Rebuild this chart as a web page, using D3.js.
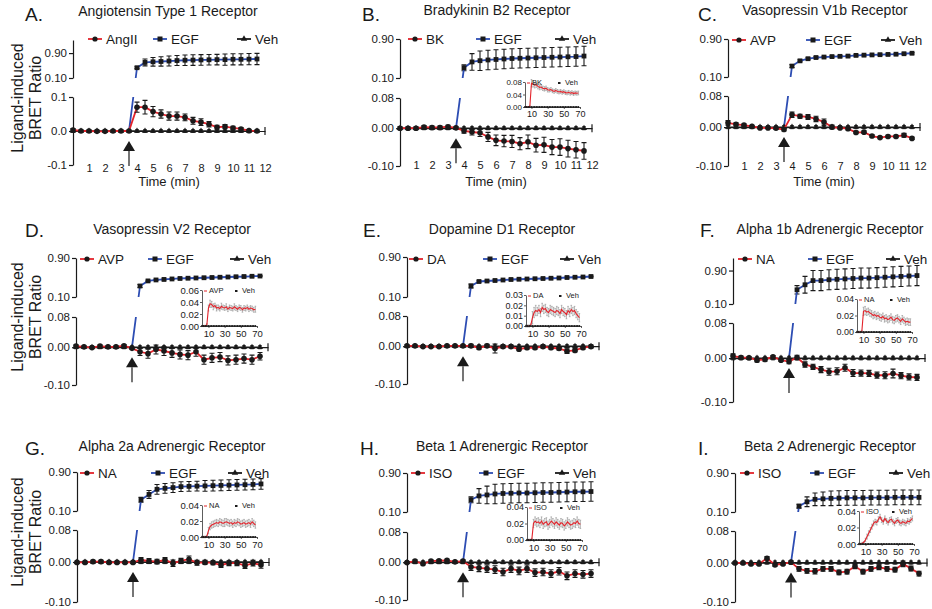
<!DOCTYPE html>
<html>
<head>
<meta charset="utf-8">
<script src="https://cdn.jsdelivr.net/npm/d3@7/dist/d3.min.js"></script>
<style>
  body { margin: 0; background: #fff; }
  svg text { font-family: "Liberation Sans", Arial, Helvetica, sans-serif; fill: #1a1a1a; }
  .ax path, .ax line { stroke: #1a1a1a; stroke-width: 1.2; }
  .ax text { font-size: 11.5px; }
  .xt text { font-size: 11px; }
  .iax path, .iax line { stroke: #333; stroke-width: 0.8; }
</style>
</head>
<body>
<svg id="fig" width="932" height="609"></svg>
<script>
// time points (min), EGF time points, tick labels
const time = [0, 0.5, 1, 1.5, 2, 2.5, 3, 3.5, 4, 4.5, 5, 5.5, 6, 6.5, 7, 7.5, 8, 8.5, 9, 9.5, 10, 10.5, 11, 11.5];
const egfTime = [3.5, 4, 4.5, 5, 5.5, 6, 6.5, 7, 7.5, 8, 8.5, 9, 9.5, 10, 10.5, 11, 11.5];
const xTicks = [1, 2, 3, 4, 5, 6, 7, 8, 9, 10, 11, 12];
const insetTime = [2, 4, 6, 8, 10, 12, 14, 16, 18, 20, 22, 24, 26, 28, 30, 32, 34, 36, 38, 40, 42, 44, 46, 48, 50, 52, 54, 56, 58, 60, 62, 64, 66, 68];
const insetTicks = [10, 30, 50, 70];

const veh = [0, 0, 0, 0, 0, 0, 0, 0, 0, 0, 0, 0, 0, 0, 0, 0, 0, 0, 0, 0, 0, 0, 0, 0];
const vehErr = [0.004, 0.004, 0.004, 0.004, 0.004, 0.004, 0.004, 0.004, 0.004, 0.004, 0.004, 0.004, 0.004, 0.004, 0.004, 0.004, 0.004, 0.004, 0.004, 0.004, 0.004, 0.004, 0.004, 0.004];

// A. AT1R
const angII = [0.003, 0, 0, -0.001, -0.001, 0, 0, 0, 0.07, 0.07, 0.057, 0.05, 0.044, 0.044, 0.04, 0.03, 0.026, 0.02, 0.011, 0.013, 0.009, 0.006, 0.001, 0];
const angIIErr = [0.004, 0.003, 0.003, 0.003, 0.003, 0.003, 0.003, 0.002, 0.015, 0.02, 0.015, 0.012, 0.012, 0.012, 0.01, 0.01, 0.01, 0.008, 0.006, 0.006, 0.005, 0.004, 0.003, 0.002];
const egfA = [0, 0.43, 0.6, 0.62, 0.63, 0.645, 0.66, 0.67, 0.675, 0.68, 0.685, 0.69, 0.69, 0.7, 0.7, 0.705, 0.71];
const egfAErr = [0, 0.03, 0.11, 0.14, 0.15, 0.16, 0.16, 0.17, 0.17, 0.17, 0.17, 0.17, 0.18, 0.18, 0.18, 0.18, 0.18];

// B. B2R
const bk = [0, 0, 0, 0.003, 0.002, 0.002, 0.004, 0.001, -0.007, -0.01, -0.012, -0.023, -0.032, -0.034, -0.035, -0.041, -0.036, -0.045, -0.044, -0.05, -0.05, -0.054, -0.057, -0.06];
const bkErr = [0.004, 0.004, 0.004, 0.004, 0.004, 0.004, 0.004, 0.003, 0.006, 0.008, 0.01, 0.012, 0.014, 0.015, 0.016, 0.016, 0.018, 0.018, 0.02, 0.02, 0.022, 0.022, 0.022, 0.022];
const egfB = [0, 0.31, 0.43, 0.455, 0.47, 0.48, 0.49, 0.5, 0.505, 0.51, 0.515, 0.52, 0.525, 0.53, 0.535, 0.54, 0.55];
const egfBErr = [0, 0.06, 0.17, 0.2, 0.2, 0.2, 0.2, 0.2, 0.2, 0.2, 0.2, 0.2, 0.2, 0.2, 0.2, 0.2, 0.2];
const bkIns = [0, 0, 0, 0.002, 0.076, 0.074, 0.07, 0.071, 0.066, 0.063, 0.064, 0.06, 0.058, 0.06, 0.055, 0.054, 0.056, 0.052, 0.05, 0.053, 0.05, 0.048, 0.05, 0.047, 0.049, 0.046, 0.045, 0.047, 0.044, 0.046, 0.043, 0.045, 0.044, 0.045];
const bkInsErr = [0.001, 0.001, 0.001, 0.002, 0.012, 0.01, 0.009, 0.008, 0.008, 0.008, 0.007, 0.007, 0.007, 0.007, 0.007, 0.006, 0.006, 0.006, 0.006, 0.006, 0.006, 0.006, 0.006, 0.006, 0.006, 0.006, 0.006, 0.006, 0.006, 0.006, 0.006, 0.006, 0.006, 0.006];

// C. V1bR
const avpC = [0.011, 0.007, 0.005, 0.002, -0.002, -0.002, -0.003, -0.006, 0.032, 0.028, 0.026, 0.021, 0.013, 0, -0.002, -0.004, -0.014, -0.013, -0.023, -0.027, -0.024, -0.024, -0.021, -0.029];
const avpCErr = [0.006, 0.004, 0.003, 0.002, 0.002, 0.002, 0.003, 0.004, 0.007, 0.005, 0.006, 0.007, 0.008, 0.005, 0.003, 0.003, 0.003, 0.003, 0.003, 0.003, 0.003, 0.003, 0.005, 0.003];
const egfC = [0, 0.33, 0.44, 0.485, 0.51, 0.52, 0.53, 0.535, 0.54, 0.555, 0.56, 0.565, 0.57, 0.575, 0.58, 0.59, 0.6];
const egfCErr = [0, 0.03, 0.02, 0.02, 0.02, 0.015, 0.015, 0.015, 0.015, 0.015, 0.015, 0.015, 0.015, 0.015, 0.015, 0.015, 0.015];

// D. V2R
const avpD = [0.003, 0.001, -0.001, 0.003, 0.001, 0.001, 0.004, -0.003, -0.012, -0.017, -0.006, -0.01, -0.015, -0.019, -0.021, -0.012, -0.033, -0.028, -0.026, -0.035, -0.033, -0.03, -0.033, -0.024];
const avpDErr = [0.003, 0.003, 0.003, 0.003, 0.003, 0.003, 0.003, 0.003, 0.01, 0.012, 0.012, 0.012, 0.012, 0.012, 0.012, 0.012, 0.012, 0.012, 0.012, 0.012, 0.012, 0.012, 0.012, 0.01];
const egfD = [0, 0.326, 0.43, 0.45, 0.46, 0.47, 0.48, 0.485, 0.49, 0.495, 0.5, 0.505, 0.51, 0.515, 0.52, 0.525, 0.53];
const egfDErr = [0, 0.03, 0.015, 0.012, 0.01, 0.01, 0.01, 0.01, 0.01, 0.01, 0.01, 0.01, 0.01, 0.01, 0.01, 0.01, 0.01];
const avpDIns = [0, 0, 0, 0.002, 0.03, 0.037, 0.036, 0.032, 0.034, 0.03, 0.031, 0.029, 0.033, 0.031, 0.03, 0.032, 0.028, 0.031, 0.03, 0.029, 0.032, 0.03, 0.028, 0.031, 0.03, 0.027, 0.03, 0.029, 0.031, 0.028, 0.03, 0.029, 0.027, 0.028];
const avpDInsErr = [0.001, 0.001, 0.001, 0.002, 0.005, 0.006, 0.005, 0.005, 0.004, 0.005, 0.004, 0.004, 0.005, 0.004, 0.004, 0.005, 0.004, 0.004, 0.004, 0.004, 0.005, 0.004, 0.004, 0.004, 0.004, 0.004, 0.004, 0.004, 0.004, 0.004, 0.004, 0.004, 0.004, 0.005];

// E. D1R
const da = [0.001, 0.001, -0.001, -0.001, -0.001, 0.001, 0.001, 0.001, 0.001, -0.004, 0.001, -0.006, -0.001, -0.001, -0.008, -0.004, -0.004, -0.001, -0.004, -0.006, -0.013, -0.011, -0.004, -0.001];
const daErr = [0.003, 0.003, 0.003, 0.003, 0.003, 0.003, 0.003, 0.003, 0.004, 0.004, 0.004, 0.012, 0.004, 0.004, 0.004, 0.004, 0.004, 0.004, 0.004, 0.004, 0.006, 0.004, 0.004, 0.004];
const egfE = [0, 0.32, 0.41, 0.42, 0.43, 0.44, 0.45, 0.455, 0.46, 0.465, 0.47, 0.475, 0.48, 0.49, 0.495, 0.5, 0.51];
const egfEErr = [0, 0.04, 0.015, 0.012, 0.01, 0.01, 0.01, 0.01, 0.01, 0.01, 0.01, 0.01, 0.01, 0.01, 0.01, 0.01, 0.01];
const daIns = [0, 0, 0, 0.001, 0.008, 0.013, 0.015, 0.014, 0.016, 0.013, 0.018, 0.016, 0.017, 0.014, 0.013, 0.016, 0.015, 0.014, 0.013, 0.015, 0.014, 0.012, 0.016, 0.014, 0.013, 0.011, 0.015, 0.013, 0.016, 0.014, 0.015, 0.012, 0.01, 0.008];
const daInsErr = [0.001, 0.001, 0.001, 0.001, 0.006, 0.005, 0.005, 0.004, 0.004, 0.004, 0.004, 0.004, 0.004, 0.004, 0.004, 0.004, 0.004, 0.004, 0.004, 0.004, 0.004, 0.004, 0.004, 0.004, 0.004, 0.004, 0.004, 0.004, 0.004, 0.004, 0.004, 0.004, 0.004, 0.004];

// F. Alpha1bAR
const naF = [0.0046, 0.0015, 0.0008, -0.0046, -0.003, 0.003, -0.0046, -0.008, 0.0015, -0.0145, -0.02, -0.026, -0.031, -0.03, -0.022, -0.034, -0.034, -0.035, -0.039, -0.039, -0.035, -0.04, -0.043, -0.044];
const naFErr = [0.005, 0.003, 0.003, 0.004, 0.004, 0.003, 0.003, 0.005, 0.005, 0.006, 0.006, 0.007, 0.008, 0.008, 0.008, 0.008, 0.007, 0.007, 0.007, 0.008, 0.01, 0.007, 0.007, 0.007];
const egfF = [0, 0.44, 0.56, 0.66, 0.66, 0.68, 0.69, 0.7, 0.71, 0.72, 0.72, 0.73, 0.74, 0.75, 0.76, 0.77, 0.78];
const egfFErr = [0, 0.1, 0.2, 0.24, 0.24, 0.24, 0.24, 0.24, 0.24, 0.24, 0.24, 0.24, 0.24, 0.24, 0.24, 0.24, 0.24];
const naFIns = [0, 0, 0, 0.001, 0.025, 0.026, 0.024, 0.025, 0.023, 0.022, 0.02, 0.021, 0.019, 0.02, 0.018, 0.017, 0.019, 0.016, 0.017, 0.015, 0.016, 0.018, 0.015, 0.014, 0.016, 0.017, 0.015, 0.013, 0.016, 0.014, 0.012, 0.013, 0.012, 0.012];
const naFInsErr = [0.001, 0.001, 0.001, 0.001, 0.005, 0.005, 0.004, 0.004, 0.004, 0.004, 0.004, 0.004, 0.004, 0.004, 0.004, 0.004, 0.004, 0.004, 0.004, 0.004, 0.004, 0.004, 0.004, 0.004, 0.004, 0.004, 0.004, 0.004, 0.004, 0.004, 0.004, 0.004, 0.004, 0.004];

// G. Alpha2aAR
const naG = [-0.001, -0.001, 0.001, 0.001, -0.001, -0.001, -0.001, -0.001, 0.005, 0.0025, 0.001, 0.005, -0.003, 0.003, 0.007, -0.002, -0.001, -0.002, -0.0075, -0.003, -0.003, -0.009, -0.003, -0.0075];
const naGErr = [0.003, 0.003, 0.003, 0.003, 0.003, 0.003, 0.003, 0.003, 0.006, 0.006, 0.006, 0.006, 0.008, 0.006, 0.008, 0.006, 0.005, 0.005, 0.006, 0.006, 0.006, 0.007, 0.007, 0.008];
const egfG = [0, 0.33, 0.44, 0.545, 0.565, 0.58, 0.6, 0.605, 0.61, 0.615, 0.62, 0.625, 0.63, 0.635, 0.64, 0.645, 0.655];
const egfGErr = [0, 0.05, 0.08, 0.1, 0.1, 0.1, 0.1, 0.1, 0.1, 0.11, 0.11, 0.11, 0.11, 0.11, 0.11, 0.11, 0.11];
const naGIns = [0, 0, 0, 0.001, 0.008, 0.013, 0.015, 0.016, 0.017, 0.018, 0.017, 0.019, 0.018, 0.017, 0.018, 0.019, 0.018, 0.017, 0.018, 0.016, 0.018, 0.017, 0.019, 0.018, 0.016, 0.017, 0.018, 0.016, 0.017, 0.018, 0.016, 0.019, 0.017, 0.015];
const naGInsErr = [0.001, 0.001, 0.001, 0.001, 0.004, 0.004, 0.004, 0.004, 0.004, 0.004, 0.004, 0.004, 0.004, 0.004, 0.005, 0.004, 0.004, 0.004, 0.004, 0.004, 0.004, 0.004, 0.004, 0.004, 0.004, 0.004, 0.004, 0.004, 0.004, 0.004, 0.004, 0.004, 0.004, 0.004];

// H. Beta1AR
const isoH = [-0.001, 0.003, -0.004, 0.003, 0.004, 0.005, 0.001, 0.003, -0.0125, -0.015, -0.017, -0.0195, -0.026, -0.017, -0.023, -0.017, -0.0275, -0.026, -0.03, -0.024, -0.036, -0.03, -0.032, -0.03];
const isoHErr = [0.003, 0.003, 0.003, 0.003, 0.003, 0.003, 0.003, 0.003, 0.009, 0.01, 0.01, 0.01, 0.01, 0.01, 0.01, 0.01, 0.01, 0.01, 0.01, 0.01, 0.01, 0.01, 0.01, 0.01];
const egfH = [0, 0.35, 0.43, 0.45, 0.47, 0.48, 0.485, 0.49, 0.49, 0.495, 0.5, 0.5, 0.505, 0.51, 0.515, 0.515, 0.52];
const egfHErr = [0, 0.06, 0.15, 0.18, 0.2, 0.2, 0.2, 0.2, 0.2, 0.2, 0.2, 0.2, 0.2, 0.2, 0.2, 0.2, 0.2];
const isoHIns = [0, 0, 0, 0.001, 0.02, 0.023, 0.021, 0.022, 0.02, 0.023, 0.019, 0.021, 0.022, 0.018, 0.02, 0.023, 0.021, 0.019, 0.022, 0.02, 0.018, 0.021, 0.02, 0.017, 0.019, 0.022, 0.02, 0.018, 0.019, 0.021, 0.02, 0.023, 0.02, 0.019];
const isoHInsErr = [0.001, 0.001, 0.001, 0.001, 0.005, 0.005, 0.005, 0.005, 0.005, 0.005, 0.005, 0.005, 0.005, 0.005, 0.005, 0.005, 0.005, 0.005, 0.005, 0.005, 0.005, 0.005, 0.005, 0.005, 0.005, 0.005, 0.005, 0.005, 0.005, 0.005, 0.005, 0.005, 0.005, 0.005];

// I. Beta2AR
const isoI = [-0.001, -0.001, -0.0034, -0.0034, 0.011, -0.006, -0.0034, 0.001, -0.016, -0.021, -0.022, -0.016, -0.016, -0.025, -0.023, -0.0095, -0.023, -0.016, -0.012, -0.016, -0.018, -0.0034, -0.015, -0.028];
const isoIErr = [0.003, 0.003, 0.003, 0.003, 0.004, 0.003, 0.003, 0.003, 0.006, 0.006, 0.007, 0.006, 0.006, 0.006, 0.006, 0.006, 0.006, 0.006, 0.006, 0.006, 0.006, 0.007, 0.006, 0.006];
const egfI = [0, 0.22, 0.31, 0.36, 0.37, 0.38, 0.385, 0.39, 0.39, 0.39, 0.395, 0.395, 0.395, 0.4, 0.4, 0.4, 0.4];
const egfIErr = [0, 0.04, 0.1, 0.13, 0.14, 0.15, 0.15, 0.15, 0.15, 0.15, 0.15, 0.15, 0.15, 0.15, 0.15, 0.15, 0.15];
const isoIIns = [0, 0, 0.001, 0.002, 0.005, 0.009, 0.013, 0.017, 0.021, 0.025, 0.027, 0.026, 0.03, 0.033, 0.029, 0.027, 0.031, 0.028, 0.026, 0.029, 0.03, 0.027, 0.025, 0.028, 0.029, 0.026, 0.025, 0.027, 0.026, 0.025, 0.028, 0.027, 0.029, 0.031];
const isoIInsErr = [0.001, 0.001, 0.001, 0.001, 0.002, 0.003, 0.003, 0.003, 0.003, 0.003, 0.003, 0.003, 0.003, 0.003, 0.003, 0.003, 0.003, 0.003, 0.003, 0.003, 0.003, 0.003, 0.003, 0.003, 0.003, 0.003, 0.003, 0.003, 0.003, 0.003, 0.003, 0.003, 0.003, 0.003];

const RED = '#e3232b';
const BLUE = '#2d4db3';
const INK = '#1a1a1a';

const panels = [
  { id: 'A', letter: 'A.', title: 'Angiotensin Type 1 Receptor', agonist: 'AngII', ag: angII, agErr: angIIErr, egf: egfA, egfErr: egfAErr,
    ax: 73, upMax: 1.32, up10: 78, upTop: 40, loMax: 0.1, loTop: 97, loBot: 165, loTicks: [-0.1, 0, 0.1], dec: 1,
    letterPos: [25, 21], titlePos: [168, 16], legY: 39, leg: [95, 160, 244], xLab: 164, xTitle: 186, yLab: 98 },
  { id: 'B', letter: 'B.', title: 'Bradykinin B2 Receptor', agonist: 'BK', ag: bk, agErr: bkErr, egf: egfB, egfErr: egfBErr,
    ax: 400, upMax: 0.9, up10: 78, upTop: 39, loMax: 0.08, loTop: 98, loBot: 166, loTicks: [-0.1, 0, 0.08], dec: 2,
    letterPos: [362, 21], titlePos: [497, 15], legY: 39, leg: [415, 483, 562], xLab: 161, xTitle: 186,
    inset: { x: 525, y0: 107, yTop: 82, max: 0.08, ticks: [0, 0.04, 0.08], w: 55, fy: 8, fx: 9, v: bkIns, e: bkInsErr } },
  { id: 'C', letter: 'C.', title: 'Vasopressin V1b Receptor', agonist: 'AVP', ag: avpC, agErr: avpCErr, egf: egfC, egfErr: egfCErr,
    ax: 728, upMax: 0.9, up10: 77, upTop: 39, loMax: 0.08, loTop: 96, loBot: 166, loTicks: [-0.1, 0, 0.08], dec: 2,
    letterPos: [698, 21], titlePos: [825, 15], legY: 40, leg: [739, 813, 888], xLab: 162, xTitle: 186 },
  { id: 'D', letter: 'D.', title: 'Vasopressin V2 Receptor', agonist: 'AVP', ag: avpD, agErr: avpDErr, egf: egfD, egfErr: egfDErr,
    ax: 76, upMax: 0.9, up10: 297, upTop: 258, loMax: 0.08, loTop: 317, loBot: 385, loTicks: [-0.1, 0, 0.08], dec: 2,
    letterPos: [25, 237], titlePos: [172, 234], legY: 259, leg: [87, 155, 237], yLab: 317,
    inset: { x: 202, y0: 326, yTop: 290, max: 0.06, ticks: [0, 0.02, 0.04, 0.06], w: 55, fy: 9.5, fx: 9.5, v: avpDIns, e: avpDInsErr } },
  { id: 'E', letter: 'E.', title: 'Dopamine D1 Receptor', agonist: 'DA', ag: da, agErr: daErr, egf: egfE, egfErr: egfEErr,
    ax: 407, upMax: 0.9, up10: 297, upTop: 257, loMax: 0.08, loTop: 316, loBot: 384, loTicks: [-0.1, 0, 0.08], dec: 2,
    letterPos: [363, 237], titlePos: [502, 234], legY: 259, leg: [416, 490, 567],
    inset: { x: 526, y0: 326, yTop: 295, max: 0.03, ticks: [0, 0.01, 0.02, 0.03], w: 55, fy: 9, fx: 9.5, v: daIns, e: daInsErr } },
  { id: 'F', letter: 'F.', title: 'Alpha 1b Adrenergic Receptor', agonist: 'NA', ag: naF, agErr: naFErr, egf: egfF, egfErr: egfFErr,
    ax: 733, upMax: 1.2, up10: 304, upTop: 258, loMax: 0.08, loTop: 323, loBot: 402, loTicks: [-0.1, 0, 0.08], dec: 2,
    letterPos: [700, 237], titlePos: [830, 234], legY: 259, leg: [745, 815, 893],
    inset: { x: 857, y0: 332, yTop: 299, max: 0.04, ticks: [0, 0.02, 0.04], w: 55, fy: 9, fx: 9.5, v: naFIns, e: naFInsErr } },
  { id: 'G', letter: 'G.', title: 'Alpha 2a Adrenergic Receptor', agonist: 'NA', ag: naG, agErr: naGErr, egf: egfG, egfErr: egfGErr,
    ax: 77, upMax: 0.9, up10: 511, upTop: 472, loMax: 0.08, loTop: 530, loBot: 602, loTicks: [-0.1, 0, 0.08], dec: 2,
    letterPos: [25, 455], titlePos: [172, 451], legY: 473, leg: [87, 158, 235], yLab: 532,
    inset: { x: 202, y0: 537, yTop: 505, max: 0.04, ticks: [0, 0.02, 0.04], w: 55, fy: 9.5, fx: 9.5, v: naGIns, e: naGInsErr } },
  { id: 'H', letter: 'H.', title: 'Beta 1 Adrenergic Receptor', agonist: 'ISO', ag: isoH, agErr: isoHErr, egf: egfH, egfErr: egfHErr,
    ax: 407, upMax: 0.9, up10: 512, upTop: 473, loMax: 0.08, loTop: 532, loBot: 600, loTicks: [-0.1, 0, 0.08], dec: 2,
    letterPos: [360, 455], titlePos: [502, 451], legY: 473, leg: [418, 486, 562],
    inset: { x: 527, y0: 540, yTop: 507, max: 0.04, ticks: [0, 0.02, 0.04], w: 55, fy: 9, fx: 9.5, v: isoHIns, e: isoHInsErr } },
  { id: 'I', letter: 'I.', title: 'Beta 2 Adrenergic Receptor', agonist: 'ISO', ag: isoI, agErr: isoIErr, egf: egfI, egfErr: egfIErr,
    ax: 735, upMax: 0.9, up10: 512, upTop: 473, loMax: 0.08, loTop: 531, loBot: 602, loTicks: [-0.1, 0, 0.08], dec: 2,
    letterPos: [698, 455], titlePos: [830, 451], legY: 473, leg: [747, 817, 896],
    inset: { x: 859, y0: 544, yTop: 511, max: 0.04, ticks: [0, 0.02, 0.04], w: 55, fy: 9.5, fx: 9.5, v: isoIIns, e: isoIInsErr } }
];

const svg = d3.select('#fig');

function errBars(g, pts, x, y, cap, color, width) {
  const eb = g.append('g').attr('stroke', color).attr('stroke-width', width).attr('fill', 'none');
  eb.selectAll('path').data(pts).enter().append('path')
    .attr('d', (d) => {
      const cx = x(d.t), y1 = y(d.v + d.e), y2 = y(d.v - d.e);
      return `M${cx},${y1}V${y2}M${cx - cap},${y1}H${cx + cap}M${cx - cap},${y2}H${cx + cap}`;
    });
}

function drawInset(g, p) {
  const ins = p.inset;
  const xi = d3.scaleLinear().domain([2, 70]).range([ins.x, ins.x + ins.w]);
  const yi = d3.scaleLinear().domain([0, ins.max]).range([ins.y0, ins.yTop]);
  const pts = insetTime.map((t, i) => ({ t, v: ins.v[i], e: ins.e[i] }));

  errBars(g, pts, xi, yi, 0.8, '#9a9a9a', 0.7);
  g.append('path').datum(pts)
    .attr('fill', 'none').attr('stroke', RED).attr('stroke-width', 1.1)
    .attr('d', d3.line().x((d) => xi(d.t)).y((d) => yi(d.v)));

  const xa = g.append('g').attr('class', 'iax').attr('transform', `translate(0,${ins.y0})`)
    .call(d3.axisBottom(xi).tickValues(insetTicks).tickSize(2).tickSizeOuter(0).tickPadding(2));
  xa.selectAll('text').attr('font-size', ins.fx + 'px');
  const ya = g.append('g').attr('class', 'iax').attr('transform', `translate(${ins.x},0)`)
    .call(d3.axisLeft(yi).tickValues(ins.ticks).tickFormat((d) => d.toFixed(2)).tickSize(2).tickSizeOuter(0).tickPadding(1));
  ya.selectAll('text').attr('font-size', ins.fy + 'px');

  g.append('g').selectAll('circle').data(insetTime).enter().append('circle')
    .attr('cx', (d) => xi(d)).attr('cy', yi(0)).attr('r', 0.9).attr('fill', INK);

  // inset legend
  const ly = ins.yTop + 3;
  g.append('line').attr('x1', ins.x + 2).attr('x2', ins.x + 5).attr('y1', ly - 2).attr('y2', ly - 2)
    .attr('stroke', RED).attr('stroke-width', 1);
  g.append('text').attr('x', ins.x + 7).attr('y', ly).attr('font-size', '7.5px').text(p.agonist);
  g.append('rect').attr('x', ins.x + 33).attr('y', ly - 3).attr('width', 2.5).attr('height', 2).attr('fill', INK);
  g.append('text').attr('x', ins.x + 40).attr('y', ly).attr('font-size', '7.5px').text('Veh');
}

function drawPanel(p) {
  const g = svg.append('g');
  const x = d3.scaleLinear().domain([0, 12]).range([p.ax, p.ax + 192]);
  const yUp = d3.scaleLinear().domain([0.1, p.upMax]).range([p.up10, p.upTop]);
  const yLo = d3.scaleLinear().domain([-0.1, p.loMax]).range([p.loBot, p.loTop]);
  const yMix = (v) => (v >= 0.1 ? yUp(v) : yLo(v));

  // titles
  g.append('text').attr('x', p.letterPos[0]).attr('y', p.letterPos[1]).attr('font-size', '19px').text(p.letter);
  g.append('text').attr('x', p.titlePos[0]).attr('y', p.titlePos[1]).attr('text-anchor', 'middle')
    .attr('font-size', '14px').text(p.title);

  // broken y axis
  g.append('g').attr('class', 'ax').attr('transform', `translate(${p.ax},0)`)
    .call(d3.axisLeft(yUp).tickValues([0.1, 0.9]).tickFormat((d) => d.toFixed(2)).tickSize(4).tickSizeOuter(0).tickPadding(2));
  g.append('g').attr('class', 'ax').attr('transform', `translate(${p.ax},0)`)
    .call(d3.axisLeft(yLo).tickValues(p.loTicks).tickFormat((d) => d.toFixed(p.dec)).tickSize(4).tickSizeOuter(0).tickPadding(2));

  // x axis along zero
  const y0 = yLo(0);
  g.append('g').attr('class', 'ax').attr('transform', `translate(0,${y0})`)
    .call(d3.axisBottom(x).tickValues([]).tickSizeOuter(0));
  g.append('line').attr('x1', x(12)).attr('x2', x(12)).attr('y1', y0 - 4).attr('y2', y0 + 4)
    .attr('stroke', INK).attr('stroke-width', 1.2);

  if (p.xLab) {
    const xa = g.append('g').attr('class', 'ax xt').attr('transform', `translate(0,${p.xLab})`)
      .call(d3.axisBottom(x).tickValues(xTicks).tickSize(0).tickPadding(0));
    xa.select('.domain').remove();
    g.append('text').attr('x', x(6)).attr('y', p.xTitle).attr('text-anchor', 'middle')
      .attr('font-size', '13px').text('Time (min)');
  }
  if (p.yLab) {
    const yl = g.append('text').attr('transform', `translate(23,${p.yLab}) rotate(-90)`)
      .attr('text-anchor', 'middle').attr('font-size', '16px');
    yl.append('tspan').attr('x', 0).attr('y', 0).text('Ligand-induced');
    yl.append('tspan').attr('x', 0).attr('y', 18).text('BRET Ratio');
  }

  // EGF
  const egfPts = egfTime.map((t, i) => ({ t, v: p.egf[i], e: p.egfErr[i] }));
  const clipId = 'clip' + p.id;
  const cp = g.append('clipPath').attr('id', clipId);
  cp.append('rect').attr('x', p.ax).attr('y', p.upTop - 30).attr('width', 200).attr('height', p.up10 - p.upTop + 30);
  cp.append('rect').attr('x', p.ax).attr('y', p.loTop).attr('width', 200).attr('height', p.loBot - p.loTop + 10);
  const egfShown = egfPts.slice(1);
  errBars(g, egfShown, x, yUp, 2.5, INK, 1.1);
  g.append('path').datum(egfPts).attr('clip-path', `url(#${clipId})`)
    .attr('fill', 'none').attr('stroke', BLUE).attr('stroke-width', 1.8)
    .attr('d', d3.line().x((d) => x(d.t)).y((d) => yMix(d.v)));
  g.append('g').selectAll('rect').data(egfShown).enter().append('rect')
    .attr('x', (d) => x(d.t) - 2.4).attr('y', (d) => yUp(d.v) - 2.4)
    .attr('width', 4.8).attr('height', 4.8).attr('fill', INK);

  // vehicle
  const vehPts = time.map((t, i) => ({ t, v: veh[i], e: vehErr[i] }));
  g.append('path').datum(vehPts).attr('fill', 'none').attr('stroke', INK).attr('stroke-width', 1.3)
    .attr('d', d3.line().x((d) => x(d.t)).y((d) => yLo(d.v)));
  errBars(g, vehPts, x, yLo, 1.8, INK, 1);
  g.append('g').selectAll('path').data(vehPts).enter().append('path')
    .attr('transform', (d) => `translate(${x(d.t)},${yLo(d.v)})`)
    .attr('d', d3.symbol(d3.symbolTriangle, 16)).attr('fill', INK);

  // agonist
  const agPts = time.map((t, i) => ({ t, v: p.ag[i], e: p.agErr[i] }));
  g.append('path').datum(agPts).attr('fill', 'none').attr('stroke', RED).attr('stroke-width', 1.8)
    .attr('d', d3.line().x((d) => x(d.t)).y((d) => yLo(d.v)));
  errBars(g, agPts, x, yLo, 2.5, INK, 1.1);
  g.append('g').selectAll('circle').data(agPts).enter().append('circle')
    .attr('cx', (d) => x(d.t)).attr('cy', (d) => yLo(d.v)).attr('r', 2.8).attr('fill', INK);

  // stimulation arrow
  const xa = x(3.5);
  g.append('path').attr('d', `M${xa},${y0 + 10}L${xa - 6},${y0 + 20}L${xa + 6},${y0 + 20}Z`).attr('fill', INK);
  g.append('line').attr('x1', xa).attr('x2', xa).attr('y1', y0 + 20).attr('y2', y0 + 35)
    .attr('stroke', INK).attr('stroke-width', 1.2);

  // legend
  const legItems = [
    { label: p.agonist, color: RED, mark: 'circle' },
    { label: 'EGF', color: BLUE, mark: 'square' },
    { label: 'Veh', color: INK, mark: 'triangle' }
  ];
  legItems.forEach((it, i) => {
    const cx = p.leg[i];
    g.append('line').attr('x1', cx - 7).attr('x2', cx + 7).attr('y1', p.legY).attr('y2', p.legY)
      .attr('stroke', it.color).attr('stroke-width', 1.8);
    if (it.mark === 'circle') {
      g.append('circle').attr('cx', cx).attr('cy', p.legY).attr('r', 2.6).attr('fill', INK);
    } else if (it.mark === 'square') {
      g.append('rect').attr('x', cx - 2.5).attr('y', p.legY - 2.5).attr('width', 5).attr('height', 5).attr('fill', INK);
    } else {
      g.append('path').attr('transform', `translate(${cx},${p.legY})`)
        .attr('d', d3.symbol(d3.symbolTriangle, 18)).attr('fill', INK);
    }
    g.append('text').attr('x', cx + 11).attr('y', p.legY + 5).attr('font-size', '13.5px').text(it.label);
  });

  if (p.inset) drawInset(g, p);
}

panels.forEach(drawPanel);
</script>
</body>
</html>
